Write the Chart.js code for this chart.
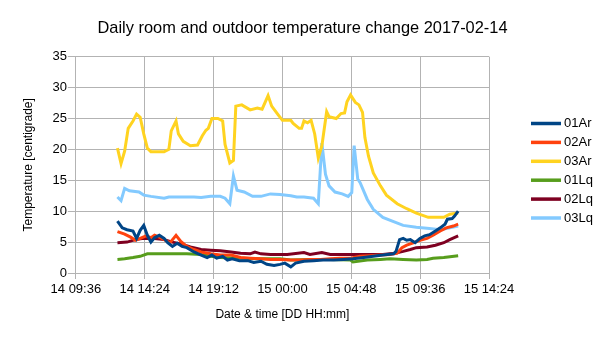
<!DOCTYPE html>
<html>
<head>
<meta charset="utf-8">
<title>Daily room and outdoor temperature change 2017-02-14</title>
<script src="https://cdn.jsdelivr.net/npm/chart.js@4.4.0/dist/chart.umd.min.js"></script>
<style>
  html, body { margin: 0; padding: 0; background: #fff; }
  #chart { display: block; }
</style>
</head>
<body>
<canvas id="chart" width="605" height="340"></canvas>
<script>
// Logged temperatures, ['DD HH:mm', degrees C]
const ar01 = [
  ['14 12:30', 8.4], ['14 12:50', 7.3], ['14 13:10', 7.0], ['14 13:35', 6.8], ['14 13:50', 5.6],
  ['14 14:05', 6.9], ['14 14:20', 7.7], ['14 14:35', 6.1], ['14 14:50', 5.0], ['14 15:05', 5.7],
  ['14 15:25', 6.1], ['14 15:45', 5.6], ['14 16:00', 4.9], ['14 16:20', 4.3], ['14 16:40', 4.8],
  ['14 17:00', 4.3], ['14 17:20', 4.1], ['14 17:50', 3.4], ['14 18:20', 2.9], ['14 18:45', 2.5],
  ['14 19:05', 2.9], ['14 19:25', 2.4], ['14 19:50', 2.7], ['14 20:10', 2.1], ['14 20:30', 2.3],
  ['14 21:00', 2.0], ['14 21:35', 2.0], ['14 22:00', 1.7], ['14 22:30', 1.9], ['14 22:55', 1.4],
  ['14 23:25', 1.2], ['14 23:50', 1.4], ['15 00:10', 1.6], ['15 00:35', 1.0], ['15 00:55', 1.6],
  ['15 01:30', 1.9], ['15 02:10', 2.0], ['15 02:50', 2.1], ['15 03:35', 2.1], ['15 04:15', 2.2],
  ['15 04:55', 2.3], ['15 05:40', 2.5], ['15 06:20', 2.7], ['15 07:00', 2.9], ['15 07:45', 3.1],
  ['15 07:55', 3.5], ['15 08:10', 5.4], ['15 08:25', 5.6], ['15 08:40', 5.3], ['15 08:55', 5.4],
  ['15 09:15', 4.9], ['15 09:35', 5.6], ['15 09:55', 6.0], ['15 10:15', 6.2], ['15 10:40', 6.8],
  ['15 11:00', 7.3], ['15 11:20', 7.9], ['15 11:30', 8.7], ['15 11:50', 8.8], ['15 12:00', 9.2],
  ['15 12:15', 10.0]
];

const ar02 = [
  ['14 12:30', 6.7], ['14 13:00', 6.3], ['14 13:25', 5.8], ['14 13:45', 5.3], ['14 14:05', 5.6],
  ['14 14:30', 6.0], ['14 14:50', 5.7], ['14 15:05', 6.1], ['14 15:25', 5.8], ['14 15:50', 5.3],
  ['14 16:10', 4.9], ['14 16:35', 6.1], ['14 16:55', 5.1], ['14 17:20', 4.3], ['14 17:50', 3.8],
  ['14 18:20', 3.4], ['14 19:00', 3.1], ['14 19:40', 2.9], ['14 20:25', 2.9], ['14 21:05', 2.5],
  ['14 21:45', 2.4], ['14 22:30', 2.3], ['14 23:10', 2.2], ['14 23:50', 2.2], ['15 00:35', 2.1],
  ['15 01:15', 2.1], ['15 01:55', 2.2], ['15 02:40', 2.2], ['15 03:20', 2.3], ['15 04:00', 2.4],
  ['15 04:45', 2.4], ['15 05:25', 2.7], ['15 06:05', 2.8], ['15 06:50', 2.9], ['15 07:30', 3.0],
  ['15 08:00', 3.2], ['15 08:20', 4.1], ['15 08:40', 4.5], ['15 09:10', 4.9], ['15 09:35', 5.3],
  ['15 10:05', 5.6], ['15 10:30', 6.1], ['15 11:00', 6.8], ['15 11:25', 7.3], ['15 11:55', 7.6],
  ['15 12:15', 7.9]
];

const ar03 = [
  ['14 12:30', 20.2], ['14 12:45', 17.7], ['14 13:00', 19.7], ['14 13:15', 23.4], ['14 13:35', 24.6],
  ['14 13:50', 25.7], ['14 14:05', 25.2], ['14 14:20', 22.5], ['14 14:35', 20.2], ['14 14:50', 19.6],
  ['14 15:45', 19.6], ['14 16:05', 20.0], ['14 16:15', 23.0], ['14 16:35', 24.6], ['14 16:45', 22.5],
  ['14 17:05', 21.3], ['14 17:35', 20.6], ['14 18:05', 20.7], ['14 18:25', 22.2], ['14 18:40', 23.1],
  ['14 18:50', 23.4], ['14 19:05', 25.0], ['14 19:30', 25.0], ['14 19:50', 24.6], ['14 20:00', 20.8],
  ['14 20:20', 17.8], ['14 20:35', 18.2], ['14 20:45', 27.0], ['14 21:10', 27.2], ['14 21:45', 26.4],
  ['14 22:15', 26.7], ['14 22:35', 26.5], ['14 23:00', 28.7], ['14 23:15', 27.0], ['14 23:40', 25.7],
  ['15 00:00', 24.7], ['15 00:35', 24.7], ['15 00:45', 24.2], ['15 01:10', 23.4], ['15 01:20', 23.4],
  ['15 01:30', 24.6], ['15 01:45', 24.3], ['15 02:00', 24.7], ['15 02:15', 22.5], ['15 02:30', 18.6],
  ['15 02:45', 20.6], ['15 03:05', 26.1], ['15 03:15', 25.3], ['15 03:45', 25.0], ['15 04:05', 25.8],
  ['15 04:20', 25.9], ['15 04:30', 27.7], ['15 04:45', 28.8], ['15 05:05', 27.6], ['15 05:20', 27.2],
  ['15 05:35', 26.0], ['15 05:45', 21.9], ['15 06:00', 18.9], ['15 06:20', 16.2], ['15 06:50', 14.1],
  ['15 07:15', 12.6], ['15 08:00', 11.2], ['15 08:40', 10.4], ['15 09:20', 9.7], ['15 10:10', 9.0],
  ['15 11:15', 9.0], ['15 11:40', 9.5], ['15 12:15', 9.7]
];

const lq01 = [
  ['14 12:30', 2.2], ['14 13:00', 2.3], ['14 13:35', 2.5], ['14 14:05', 2.7], ['14 14:35', 3.1],
  ['14 16:00', 3.1], ['14 17:20', 3.1], ['14 18:20', 3.0], ['14 19:00', 2.7], ['14 19:40', 2.5],
  ['14 21:05', 2.4], ['14 22:30', 2.3], ['14 23:50', 2.3], ['15 00:35', 2.1], ['15 01:55', 2.2],
  ['15 03:20', 2.2], ['15 04:45', 2.1], ['15 04:55', 1.8], ['15 05:55', 2.1], ['15 06:50', 2.2],
  ['15 07:30', 2.3], ['15 08:25', 2.2], ['15 09:20', 2.1], ['15 10:05', 2.2], ['15 10:30', 2.4],
  ['15 11:15', 2.5], ['15 12:15', 2.8]
];

const lq02 = [
  ['14 12:30', 4.9], ['14 13:10', 5.0], ['14 13:45', 5.4], ['14 14:20', 5.6], ['14 15:05', 5.6],
  ['14 15:45', 5.4], ['14 16:20', 5.0], ['14 16:55', 4.7], ['14 17:35', 4.2], ['14 18:20', 3.8],
  ['14 19:00', 3.7], ['14 19:40', 3.6], ['14 20:25', 3.4], ['14 21:05', 3.2], ['14 21:45', 3.1],
  ['14 22:05', 3.4], ['14 22:30', 3.1], ['14 23:10', 3.0], ['14 23:50', 3.0], ['15 00:20', 3.0],
  ['15 01:30', 3.3], ['15 01:55', 3.0], ['15 02:45', 3.3], ['15 03:20', 3.0], ['15 04:15', 3.0],
  ['15 05:10', 3.0], ['15 06:05', 3.0], ['15 07:00', 3.0], ['15 07:50', 3.2], ['15 08:25', 3.5],
  ['15 08:55', 3.8], ['15 09:20', 4.1], ['15 10:05', 4.2], ['15 10:40', 4.5], ['15 11:15', 4.9],
  ['15 11:40', 5.4], ['15 12:15', 6.0]
];

const lq03 = [
  ['14 12:30', 12.3], ['14 12:45', 11.7], ['14 13:00', 13.7], ['14 13:20', 13.3], ['14 14:00', 13.1],
  ['14 14:20', 12.6], ['14 14:50', 12.4], ['14 15:45', 12.1], ['14 16:05', 12.3], ['14 16:55', 12.3],
  ['14 17:50', 12.3], ['14 18:20', 12.2], ['14 19:00', 12.4], ['14 19:40', 12.4], ['14 20:00', 12.1],
  ['14 20:20', 11.2], ['14 20:35', 15.7], ['14 20:50', 13.4], ['14 21:20', 13.1], ['14 21:55', 12.4],
  ['14 22:30', 12.4], ['14 23:10', 12.8], ['14 23:50', 12.7], ['15 00:35', 12.5], ['15 01:00', 12.3],
  ['15 01:30', 12.3], ['15 02:10', 12.1], ['15 02:30', 11.2], ['15 02:45', 21.0], ['15 03:00', 16.0],
  ['15 03:15', 14.1], ['15 03:40', 13.1], ['15 04:10', 12.8], ['15 04:35', 12.4], ['15 04:50', 13.0],
  ['15 05:00', 20.6], ['15 05:15', 15.2], ['15 05:25', 14.6], ['15 05:55', 11.9], ['15 06:20', 10.3],
  ['15 07:00', 9.0], ['15 07:45', 8.3], ['15 08:25', 7.7], ['15 09:20', 7.4], ['15 10:15', 7.2],
  ['15 11:00', 7.0], ['15 11:40', 7.3], ['15 12:15', 7.6]
];

const seriesNames = ['01Ar', '02Ar', '03Ar', '01Lq', '02Lq', '03Lq'];
const seriesColors = ['#004586', '#ff420e', '#ffd320', '#579d1c', '#7e0021', '#83caff'];
const timeTicks = ['14 09:36', '14 14:24', '14 19:12', '15 00:00', '15 04:48', '15 09:36', '15 14:24'];
const tempTicks = [0, 5, 10, 15, 20, 25, 30, 35];

const FONT = '"Liberation Sans", Arial, sans-serif';

// 'DD HH:mm' -> minutes from the start of day 14
function toMinutes(stamp) {
  const [day, hm] = stamp.split(' ');
  const [h, m] = hm.split(':').map(Number);
  return (Number(day) - 14) * 1440 + h * 60 + m;
}

function fromMinutes(value) {
  const day = 14 + Math.floor(value / 1440);
  const rest = value - (day - 14) * 1440;
  const h = Math.floor(rest / 60);
  const m = Math.round(rest % 60);
  return day + ' ' + String(h).padStart(2, '0') + ':' + String(m).padStart(2, '0');
}

const readings = [ar01, ar02, ar03, lq01, lq02, lq03];

const datasets = readings.map((rows, i) => ({
  label: seriesNames[i],
  data: rows.map(([t, v]) => ({ x: toMinutes(t), y: v })),
  borderColor: seriesColors[i],
  backgroundColor: seriesColors[i],
  borderWidth: 3,
  pointRadius: 0,
  tension: 0
}));

// Legend to the right of the plot: short line sample plus label
const sideLegend = {
  id: 'sideLegend',
  afterLayout(chart) {
    // centre the title over the whole canvas, not just the plot column
    const t = chart.titleBlock;
    if (t) {
      t.left = 0;
      t.right = chart.width;
      t.width = chart.width;
    }
  },
  afterDraw(chart) {
    const ctx = chart.ctx;
    ctx.save();
    ctx.font = '13px ' + FONT;
    ctx.textBaseline = 'middle';
    ctx.textAlign = 'left';
    chart.data.datasets.forEach((ds, i) => {
      const y = 123.5 + i * 18.9;
      ctx.strokeStyle = ds.borderColor;
      ctx.lineWidth = 3.5;
      ctx.beginPath();
      ctx.moveTo(531, y);
      ctx.lineTo(561, y);
      ctx.stroke();
      ctx.fillStyle = '#000';
      ctx.fillText(ds.label, 564, y);
    });
    ctx.restore();
  }
};

const tickStep = toMinutes(timeTicks[1]) - toMinutes(timeTicks[0]);

new Chart(document.getElementById('chart'), {
  type: 'line',
  data: { datasets },
  plugins: [sideLegend],
  options: {
    responsive: false,
    animation: false,
    layout: { padding: { top: 0, right: 116, bottom: 14, left: 10 } },
    plugins: {
      legend: { display: false },
      tooltip: { enabled: false },
      title: {
        display: true,
        text: 'Daily room and outdoor temperature change 2017-02-14',
        color: '#000',
        font: { family: FONT, size: 16.4, weight: 'normal' },
        padding: { top: 19, bottom: 18 }
      }
    },
    scales: {
      x: {
        type: 'linear',
        min: toMinutes(timeTicks[0]),
        max: toMinutes(timeTicks[timeTicks.length - 1]),
        grid: { color: '#b3b3b3', tickLength: 6 },
        border: { color: '#b3b3b3' },
        ticks: {
          stepSize: tickStep,
          color: '#000',
          padding: 3,
          maxRotation: 0,
          font: { family: FONT, size: 13 },
          callback: v => fromMinutes(v)
        },
        title: {
          display: true,
          text: 'Date & time [DD HH:mm]',
          color: '#000',
          font: { family: FONT, size: 12 },
          padding: { top: 7, bottom: 4 }
        }
      },
      y: {
        min: tempTicks[0],
        max: tempTicks[tempTicks.length - 1],
        grid: { color: '#b3b3b3', tickLength: 8 },
        border: { color: '#b3b3b3' },
        ticks: {
          stepSize: tempTicks[1] - tempTicks[0],
          color: '#000',
          padding: 1,
          font: { family: FONT, size: 13 }
        },
        title: {
          display: true,
          text: 'Temperature [centigrade]',
          color: '#000',
          font: { family: FONT, size: 12 },
          padding: { top: 11, bottom: 16 }
        }
      }
    }
  }
});
</script>
</body>
</html>
